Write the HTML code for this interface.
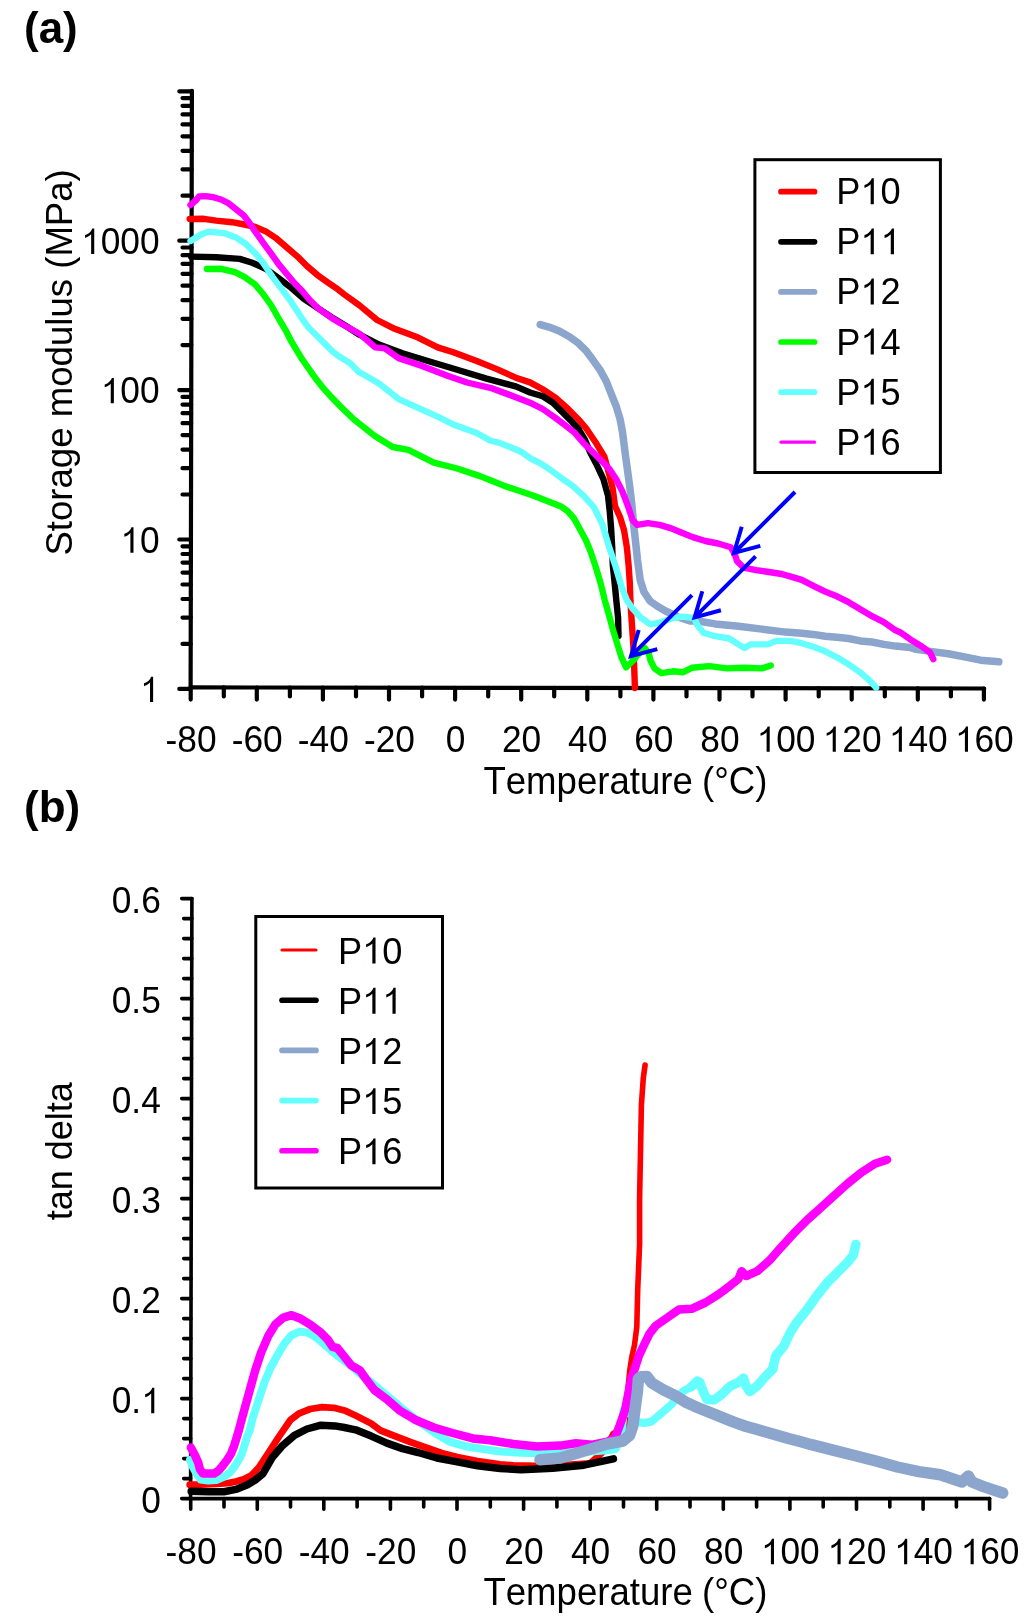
<!DOCTYPE html>
<html><head><meta charset="utf-8">
<style>
html,body{margin:0;padding:0;background:#fff;}
body{width:1024px;height:1623px;overflow:hidden;}
svg{display:block;}
text{font-family:"Liberation Sans",sans-serif;fill:#000;white-space:pre;-webkit-font-smoothing:antialiased;font-kerning:none;font-feature-settings:"kern" 0;}
svg{will-change:transform;}
</style></head><body>
<svg width="1024" height="1623" viewBox="0 0 1024 1623">
<text x="24" y="43" font-size="44" font-weight="bold">(a)</text>
<text x="24" y="822" font-size="44" font-weight="bold">(b)</text>
<g stroke="#000" stroke-width="4.2" stroke-linecap="round" fill="none">
<path d="M191.9 90.8 L190.6 688.0"/>
<path d="M190.6 687.4 L984.2 688.5"/>
<path d="M190.6 688.9 H179.3 M190.7 643.9 H182.5 M190.8 617.6 H182.5 M190.8 599.0 H182.5 M190.8 584.5 H182.5 M190.9 572.6 H182.5 M190.9 562.6 H182.5 M190.9 554.0 H182.5 M190.9 546.3 H182.5 M190.9 539.5 H179.3 M191.0 494.5 H182.5 M191.1 468.2 H182.5 M191.1 449.6 H182.5 M191.2 435.1 H182.5 M191.2 423.2 H182.5 M191.2 413.2 H182.5 M191.2 404.6 H182.5 M191.2 396.9 H182.5 M191.2 390.1 H179.3 M191.3 345.1 H182.5 M191.4 318.8 H182.5 M191.4 300.2 H182.5 M191.5 285.7 H182.5 M191.5 273.8 H182.5 M191.5 263.8 H182.5 M191.5 255.2 H182.5 M191.6 247.5 H182.5 M191.6 240.7 H179.3 M191.7 195.7 H182.5 M191.7 169.4 H182.5 M191.8 150.8 H182.5 M191.8 136.3 H182.5 M191.8 124.4 H182.5 M191.8 114.4 H182.5 M191.9 105.8 H182.5 M191.9 98.1 H182.5 M191.9 91.3 H179.3 M190.7 687.4 V699.6 M223.8 687.4 V696.4 M256.8 687.5 V699.6 M289.9 687.5 V696.4 M322.9 687.6 V699.6 M356.0 687.6 V696.4 M389.0 687.7 V699.6 M422.1 687.7 V696.4 M455.1 687.8 V699.6 M488.2 687.8 V696.4 M521.2 687.9 V699.6 M554.2 687.9 V696.4 M587.3 687.9 V699.6 M620.4 688.0 V696.4 M653.4 688.0 V699.6 M686.5 688.1 V696.4 M719.5 688.1 V699.6 M752.5 688.2 V696.4 M785.6 688.2 V699.6 M818.7 688.3 V696.4 M851.7 688.3 V699.6 M884.8 688.4 V696.4 M917.8 688.4 V699.6 M950.9 688.5 V696.4 M983.9 688.5 V699.6"/>
</g>
<g transform="translate(159.6 253.9) scale(1 1.045)"><text font-size="35.3" text-anchor="end">1000</text><rect x="-76.53" y="-25.34" width="16.89" height="26.03" fill="#fff"/><path transform="translate(-78.51 0) scale(0.01724 -0.01724)" d="M583 0H763V1409H646C627 1356 596 1302 552 1247C508 1193 458 1150 402 1118C346 1085 290 1062 232 1049V885C290 900 350 925 412 960C474 995 536 1040 583 1090Z"/></g>
<g transform="translate(159.6 403.3) scale(1 1.045)"><text font-size="35.3" text-anchor="end">100</text><rect x="-56.91" y="-25.34" width="16.89" height="26.03" fill="#fff"/><path transform="translate(-58.89 0) scale(0.01724 -0.01724)" d="M583 0H763V1409H646C627 1356 596 1302 552 1247C508 1193 458 1150 402 1118C346 1085 290 1062 232 1049V885C290 900 350 925 412 960C474 995 536 1040 583 1090Z"/></g>
<g transform="translate(159.6 552.7) scale(1 1.045)"><text font-size="35.3" text-anchor="end">10</text><rect x="-37.28" y="-25.34" width="16.89" height="26.03" fill="#fff"/><path transform="translate(-39.26 0) scale(0.01724 -0.01724)" d="M583 0H763V1409H646C627 1356 596 1302 552 1247C508 1193 458 1150 402 1118C346 1085 290 1062 232 1049V885C290 900 350 925 412 960C474 995 536 1040 583 1090Z"/></g>
<g transform="translate(159.6 702.1) scale(1 1.045)"><text font-size="35.3" text-anchor="end">1</text><rect x="-17.65" y="-25.34" width="16.89" height="26.03" fill="#fff"/><path transform="translate(-19.63 0) scale(0.01724 -0.01724)" d="M583 0H763V1409H646C627 1356 596 1302 552 1247C508 1193 458 1150 402 1118C346 1085 290 1062 232 1049V885C290 900 350 925 412 960C474 995 536 1040 583 1090Z"/></g>
<g transform="translate(191.1 751.8) scale(1 1.045)"><text font-size="35.3" text-anchor="middle">-80</text></g>
<g transform="translate(257.2 751.8) scale(1 1.045)"><text font-size="35.3" text-anchor="middle">-60</text></g>
<g transform="translate(323.3 751.8) scale(1 1.045)"><text font-size="35.3" text-anchor="middle">-40</text></g>
<g transform="translate(389.4 751.8) scale(1 1.045)"><text font-size="35.3" text-anchor="middle">-20</text></g>
<g transform="translate(455.5 751.8) scale(1 1.045)"><text font-size="35.3" text-anchor="middle">0</text></g>
<g transform="translate(521.6 751.8) scale(1 1.045)"><text font-size="35.3" text-anchor="middle">20</text></g>
<g transform="translate(587.7 751.8) scale(1 1.045)"><text font-size="35.3" text-anchor="middle">40</text></g>
<g transform="translate(653.8 751.8) scale(1 1.045)"><text font-size="35.3" text-anchor="middle">60</text></g>
<g transform="translate(719.9 751.8) scale(1 1.045)"><text font-size="35.3" text-anchor="middle">80</text></g>
<g transform="translate(786.0 751.8) scale(1 1.045)"><text font-size="35.3" text-anchor="middle">100</text><rect x="-27.47" y="-25.34" width="16.89" height="26.03" fill="#fff"/><path transform="translate(-29.45 0) scale(0.01724 -0.01724)" d="M583 0H763V1409H646C627 1356 596 1302 552 1247C508 1193 458 1150 402 1118C346 1085 290 1062 232 1049V885C290 900 350 925 412 960C474 995 536 1040 583 1090Z"/></g>
<g transform="translate(852.1 751.8) scale(1 1.045)"><text font-size="35.3" text-anchor="middle">120</text><rect x="-27.47" y="-25.34" width="16.89" height="26.03" fill="#fff"/><path transform="translate(-29.45 0) scale(0.01724 -0.01724)" d="M583 0H763V1409H646C627 1356 596 1302 552 1247C508 1193 458 1150 402 1118C346 1085 290 1062 232 1049V885C290 900 350 925 412 960C474 995 536 1040 583 1090Z"/></g>
<g transform="translate(918.2 751.8) scale(1 1.045)"><text font-size="35.3" text-anchor="middle">140</text><rect x="-27.47" y="-25.34" width="16.89" height="26.03" fill="#fff"/><path transform="translate(-29.45 0) scale(0.01724 -0.01724)" d="M583 0H763V1409H646C627 1356 596 1302 552 1247C508 1193 458 1150 402 1118C346 1085 290 1062 232 1049V885C290 900 350 925 412 960C474 995 536 1040 583 1090Z"/></g>
<g transform="translate(984.3 751.8) scale(1 1.045)"><text font-size="35.3" text-anchor="middle">160</text><rect x="-27.47" y="-25.34" width="16.89" height="26.03" fill="#fff"/><path transform="translate(-29.45 0) scale(0.01724 -0.01724)" d="M583 0H763V1409H646C627 1356 596 1302 552 1247C508 1193 458 1150 402 1118C346 1085 290 1062 232 1049V885C290 900 350 925 412 960C474 995 536 1040 583 1090Z"/></g>
<g transform="translate(483.4 794.0) scale(1 1.040)"><text font-size="36.6" text-anchor="start">Temperature</text></g>
<g transform="translate(702.0 794.0) scale(1 1.040)"><text font-size="36.6" text-anchor="start">(°C)</text></g>
<g transform="translate(71.8 362.4) rotate(-90) scale(1 1.013)"><text font-size="36.6" text-anchor="middle">Storage modulus (MPa)</text></g>
<g>
<path d="M189.7 219.0 L203.8 218.8 L216.2 220.6 L231.9 222.2 L244.4 224.5 L255.3 226.9 L266.2 231.6 L275.6 237.8 L286.6 247.2 L297.5 256.6 L306.9 266.0 L317.8 275.3 L328.8 283.1 L338.0 289.4 L344.4 294.5 L359.5 305.4 L377.1 320.0 L394.7 328.8 L418.1 337.6 L437.7 347.4 L453.3 352.3 L476.7 361.0 L496.2 368.9 L515.8 377.7 L530.0 382.4 L542.7 389.3 L555.4 397.6 L568.1 409.0 L578.2 419.2 L585.9 428.0 L595.2 441.7 L604.5 457.0 L609.2 474.5 L612.7 488.6 L615.1 506.2 L620.0 517.0 L624.0 530.0 L626.9 547.6 L628.6 565.2 L629.8 582.7 L630.4 600.3 L631.3 615.0 L632.3 630.0 L633.3 645.0 L633.9 660.0 L634.4 673.2 L634.9 688.0" fill="none" stroke="#ff0000" stroke-width="6.4" stroke-linecap="round" stroke-linejoin="round"/>
<path d="M191.2 256.6 L216.2 257.3 L239.7 258.9 L252.2 262.8 L266.2 269.0 L278.8 278.4 L291.2 287.8 L303.8 298.8 L317.8 308.1 L331.9 317.5 L344.4 325.0 L359.5 334.7 L379.0 344.5 L402.5 353.2 L427.9 361.0 L457.2 369.8 L486.5 378.6 L515.8 386.4 L530.0 392.5 L542.7 396.3 L552.9 402.7 L561.7 411.6 L570.6 420.4 L578.5 429.0 L585.0 440.0 L590.0 452.0 L596.3 464.0 L603.4 479.2 L608.0 495.6 L609.8 512.0 L611.2 529.6 L612.2 547.6 L612.8 565.2 L614.6 582.7 L616.3 600.3 L618.1 617.9 L618.5 636.0" fill="none" stroke="#000000" stroke-width="6.4" stroke-linecap="round" stroke-linejoin="round"/>
<path d="M540.2 324.6 L549.0 327.1 L559.2 331.0 L569.4 336.7 L578.2 343.0 L585.9 350.6 L593.5 360.8 L599.8 369.7 L606.2 381.1 L611.2 393.8 L616.3 406.5 L620.1 419.2 L622.5 432.0 L625.2 453.4 L627.6 471.0 L630.0 488.6 L632.0 506.2 L633.5 523.8 L635.5 541.3 L637.5 560.0 L640.2 580.0 L644.0 592.0 L650.0 601.0 L657.0 606.0 L665.5 611.0 L677.3 616.7 L690.0 621.0 L697.6 621.0 L715.2 623.9 L738.6 626.2 L762.0 629.1 L785.5 632.1 L801.7 633.2 L813.4 634.4 L825.2 636.2 L836.9 637.3 L848.6 638.5 L860.3 640.9 L872.0 642.0 L883.8 644.4 L895.5 646.1 L910.0 647.5 L916.1 649.4 L932.2 651.6 L948.3 653.7 L964.5 656.9 L980.6 660.2 L998.8 661.8" fill="none" stroke="#8ba5cc" stroke-width="7.5" stroke-linecap="round" stroke-linejoin="round"/>
<path d="M206.9 269.0 L220.9 268.8 L235.0 272.2 L244.4 276.9 L255.3 284.7 L263.1 294.0 L271.0 305.0 L279.5 320.0 L285.4 329.8 L290.3 339.5 L296.1 349.3 L302.0 359.0 L308.8 368.8 L315.7 378.6 L323.5 388.4 L332.3 398.1 L341.0 406.9 L354.0 419.5 L375.2 436.2 L392.7 447.0 L408.4 449.9 L433.8 462.6 L457.2 468.5 L480.0 476.1 L489.8 480.0 L504.4 485.9 L519.0 490.8 L533.7 495.7 L548.4 501.5 L561.0 506.4 L567.9 511.3 L573.8 518.1 L579.0 527.5 L585.8 540.0 L590.0 550.0 L595.2 565.2 L600.5 582.7 L604.8 600.3 L609.0 615.0 L613.0 630.0 L617.3 643.9 L621.2 656.6 L626.1 667.4 L631.0 662.5 L634.0 659.6 L636.9 655.7 L644.7 647.9 L648.6 652.7 L650.5 660.5 L654.5 668.4 L661.3 673.2 L673.0 671.3 L682.8 672.3 L691.7 667.8 L709.3 666.1 L726.9 668.4 L744.5 667.8 L762.0 668.4 L770.8 665.5" fill="none" stroke="#00ff00" stroke-width="6.4" stroke-linecap="round" stroke-linejoin="round"/>
<path d="M190.5 241.0 L200.6 234.7 L208.4 231.6 L224.0 233.1 L236.6 237.8 L245.9 244.0 L255.3 253.4 L263.1 262.8 L272.5 276.9 L281.9 289.4 L291.2 301.9 L303.0 320.0 L308.8 327.8 L316.6 335.6 L324.5 343.4 L332.3 351.2 L340.0 357.1 L349.8 363.0 L358.6 371.8 L379.0 383.5 L398.6 399.1 L418.1 407.9 L437.7 416.7 L453.3 424.5 L476.7 433.0 L490.0 440.5 L499.5 442.9 L509.3 446.8 L521.0 451.7 L530.8 458.6 L540.5 463.4 L552.3 471.2 L564.0 480.0 L571.7 485.1 L583.4 495.6 L594.0 507.3 L602.2 523.8 L609.3 547.6 L615.2 565.2 L621.0 585.1 L626.9 600.3 L632.0 607.8 L640.8 617.6 L650.5 624.4 L660.3 622.5 L673.0 618.1 L682.8 616.6 L694.0 618.0 L697.6 625.6 L703.4 632.7 L715.2 636.2 L729.2 638.5 L738.6 644.4 L744.5 647.9 L750.3 644.4 L767.9 644.4 L776.1 640.9 L790.0 640.9 L801.7 643.2 L813.4 646.7 L825.2 651.4 L836.9 657.3 L848.6 664.3 L860.3 672.5 L869.7 680.7 L876.1 687.7" fill="none" stroke="#66ffff" stroke-width="6.4" stroke-linecap="round" stroke-linejoin="round"/>
<path d="M190.5 205.0 L196.0 200.3 L199.0 196.4 L205.3 196.1 L213.0 197.2 L221.0 199.5 L228.8 203.4 L236.6 209.7 L243.6 215.2 L249.0 222.2 L255.3 231.6 L263.0 242.5 L271.0 253.4 L278.8 264.4 L286.6 273.8 L294.4 283.0 L302.2 291.0 L310.0 300.3 L317.8 308.0 L325.6 313.6 L333.4 319.0 L340.0 323.0 L359.5 333.7 L375.2 347.4 L384.9 348.4 L398.6 358.1 L422.0 365.9 L447.4 375.7 L467.0 382.5 L492.3 388.4 L515.8 397.2 L530.0 402.7 L542.7 409.0 L555.4 417.9 L565.5 425.5 L574.4 432.5 L583.4 442.9 L595.2 454.6 L609.2 468.7 L616.2 479.2 L622.1 490.9 L628.0 506.2 L632.7 520.2 L637.3 524.9 L647.9 523.2 L659.6 524.9 L671.3 528.4 L680.0 532.0 L692.7 537.1 L705.4 541.0 L718.1 543.5 L730.8 547.3 L734.6 553.6 L737.1 561.2 L743.5 567.6 L756.2 570.1 L768.9 572.0 L781.6 574.0 L790.0 576.4 L801.7 579.9 L813.4 585.8 L825.2 591.6 L836.9 596.3 L848.6 602.2 L860.3 609.2 L872.0 616.2 L883.8 622.1 L895.5 630.3 L900.0 632.2 L910.7 639.7 L921.5 646.2 L930.1 652.6 L933.3 659.1" fill="none" stroke="#ff00ff" stroke-width="6.4" stroke-linecap="round" stroke-linejoin="round"/>
</g>
<path d="M692.0 595.2 L631.0 656.2 M638.7 630.0 L631.0 656.2 L657.3 649.1" fill="none" stroke="#0000ff" stroke-width="4" stroke-linecap="butt" stroke-linejoin="miter"/>
<path d="M755.6 556.4 L694.6 617.4 M702.3 591.2 L694.6 617.4 L720.9 610.3" fill="none" stroke="#0000ff" stroke-width="4" stroke-linecap="butt" stroke-linejoin="miter"/>
<path d="M795.0 492.0 L734.0 553.0 M741.7 526.8 L734.0 553.0 L760.3 545.9" fill="none" stroke="#0000ff" stroke-width="4" stroke-linecap="butt" stroke-linejoin="miter"/>
<rect x="754.9" y="159.7" width="185.5" height="312.8" fill="#fff" stroke="#000" stroke-width="3"/>
<path d="M781 191.7 H814.5" stroke="#ff0000" stroke-width="5.7" stroke-linecap="round"/>
<g transform="translate(836.2 204.2) scale(1 1.040)"><text font-size="36.2" text-anchor="start">P10</text><rect x="26.17" y="-25.98" width="17.32" height="26.69" fill="#fff"/><path transform="translate(24.14 0) scale(0.01768 -0.01768)" d="M583 0H763V1409H646C627 1356 596 1302 552 1247C508 1193 458 1150 402 1118C346 1085 290 1062 232 1049V885C290 900 350 925 412 960C474 995 536 1040 583 1090Z"/></g>
<path d="M781 241.8 H814.5" stroke="#000000" stroke-width="5.7" stroke-linecap="round"/>
<g transform="translate(836.2 254.3) scale(1 1.040)"><text font-size="36.2" text-anchor="start">P11</text><rect x="26.17" y="-25.98" width="17.32" height="26.69" fill="#fff"/><path transform="translate(24.14 0) scale(0.01768 -0.01768)" d="M583 0H763V1409H646C627 1356 596 1302 552 1247C508 1193 458 1150 402 1118C346 1085 290 1062 232 1049V885C290 900 350 925 412 960C474 995 536 1040 583 1090Z"/><rect x="46.30" y="-25.98" width="17.32" height="26.69" fill="#fff"/><path transform="translate(44.26 0) scale(0.01768 -0.01768)" d="M583 0H763V1409H646C627 1356 596 1302 552 1247C508 1193 458 1150 402 1118C346 1085 290 1062 232 1049V885C290 900 350 925 412 960C474 995 536 1040 583 1090Z"/></g>
<path d="M781 291.9 H814.5" stroke="#8ba5cc" stroke-width="5.7" stroke-linecap="round"/>
<g transform="translate(836.2 304.4) scale(1 1.040)"><text font-size="36.2" text-anchor="start">P12</text><rect x="26.17" y="-25.98" width="17.32" height="26.69" fill="#fff"/><path transform="translate(24.14 0) scale(0.01768 -0.01768)" d="M583 0H763V1409H646C627 1356 596 1302 552 1247C508 1193 458 1150 402 1118C346 1085 290 1062 232 1049V885C290 900 350 925 412 960C474 995 536 1040 583 1090Z"/></g>
<path d="M781 342.0 H814.5" stroke="#00ff00" stroke-width="5.7" stroke-linecap="round"/>
<g transform="translate(836.2 354.5) scale(1 1.040)"><text font-size="36.2" text-anchor="start">P14</text><rect x="26.17" y="-25.98" width="17.32" height="26.69" fill="#fff"/><path transform="translate(24.14 0) scale(0.01768 -0.01768)" d="M583 0H763V1409H646C627 1356 596 1302 552 1247C508 1193 458 1150 402 1118C346 1085 290 1062 232 1049V885C290 900 350 925 412 960C474 995 536 1040 583 1090Z"/></g>
<path d="M781 392.1 H814.5" stroke="#66ffff" stroke-width="5.7" stroke-linecap="round"/>
<g transform="translate(836.2 404.6) scale(1 1.040)"><text font-size="36.2" text-anchor="start">P15</text><rect x="26.17" y="-25.98" width="17.32" height="26.69" fill="#fff"/><path transform="translate(24.14 0) scale(0.01768 -0.01768)" d="M583 0H763V1409H646C627 1356 596 1302 552 1247C508 1193 458 1150 402 1118C346 1085 290 1062 232 1049V885C290 900 350 925 412 960C474 995 536 1040 583 1090Z"/></g>
<path d="M781 442.2 H814.5" stroke="#ff00ff" stroke-width="3.2" stroke-linecap="round"/>
<g transform="translate(836.2 454.7) scale(1 1.040)"><text font-size="36.2" text-anchor="start">P16</text><rect x="26.17" y="-25.98" width="17.32" height="26.69" fill="#fff"/><path transform="translate(24.14 0) scale(0.01768 -0.01768)" d="M583 0H763V1409H646C627 1356 596 1302 552 1247C508 1193 458 1150 402 1118C346 1085 290 1062 232 1049V885C290 900 350 925 412 960C474 995 536 1040 583 1090Z"/></g>
<g stroke="#000" stroke-width="3.6" stroke-linecap="round" fill="none">
<path d="M191.9 898.6 L190.6 1498.6"/>
<path d="M190.6 1498.6 L989.6 1498.6"/>
<path d="M190.6 1498.6 H181.7 M190.6 1478.6 H183.7 M190.7 1458.6 H183.7 M190.7 1438.6 H183.7 M190.8 1418.6 H183.7 M190.8 1398.6 H181.7 M190.9 1378.6 H183.7 M190.9 1358.6 H183.7 M190.9 1338.6 H183.7 M191.0 1318.6 H183.7 M191.0 1298.6 H181.7 M191.1 1278.6 H183.7 M191.1 1258.6 H183.7 M191.2 1238.6 H183.7 M191.2 1218.6 H183.7 M191.2 1198.6 H181.7 M191.3 1178.6 H183.7 M191.3 1158.6 H183.7 M191.4 1138.6 H183.7 M191.4 1118.6 H183.7 M191.5 1098.6 H181.7 M191.5 1078.6 H183.7 M191.6 1058.6 H183.7 M191.6 1038.6 H183.7 M191.6 1018.6 H183.7 M191.7 998.6 H181.7 M191.7 978.6 H183.7 M191.8 958.6 H183.7 M191.8 938.6 H183.7 M191.9 918.6 H183.7 M191.9 898.6 H181.7 M190.7 1498.6 V1509.2 M224.0 1498.6 V1506.9 M257.3 1498.6 V1509.2 M290.5 1498.6 V1506.9 M323.8 1498.6 V1509.2 M357.1 1498.6 V1506.9 M390.4 1498.6 V1509.2 M423.7 1498.6 V1506.9 M457.0 1498.6 V1509.2 M490.3 1498.6 V1506.9 M523.6 1498.6 V1509.2 M556.9 1498.6 V1506.9 M590.2 1498.6 V1509.2 M623.5 1498.6 V1506.9 M656.7 1498.6 V1509.2 M690.0 1498.6 V1506.9 M723.3 1498.6 V1509.2 M756.6 1498.6 V1506.9 M789.9 1498.6 V1509.2 M823.2 1498.6 V1506.9 M856.5 1498.6 V1509.2 M889.8 1498.6 V1506.9 M923.1 1498.6 V1509.2 M956.4 1498.6 V1506.9 M989.6 1498.6 V1509.2"/>
</g>
<g transform="translate(160.8 1513.2) scale(1 1.045)"><text font-size="35.3" text-anchor="end">0</text></g>
<g transform="translate(160.8 1413.2) scale(1 1.045)"><text font-size="35.3" text-anchor="end">0.1</text><rect x="-17.66" y="-25.34" width="16.89" height="26.03" fill="#fff"/><path transform="translate(-19.65 0) scale(0.01724 -0.01724)" d="M583 0H763V1409H646C627 1356 596 1302 552 1247C508 1193 458 1150 402 1118C346 1085 290 1062 232 1049V885C290 900 350 925 412 960C474 995 536 1040 583 1090Z"/></g>
<g transform="translate(160.8 1313.2) scale(1 1.045)"><text font-size="35.3" text-anchor="end">0.2</text></g>
<g transform="translate(160.8 1213.2) scale(1 1.045)"><text font-size="35.3" text-anchor="end">0.3</text></g>
<g transform="translate(160.8 1113.2) scale(1 1.045)"><text font-size="35.3" text-anchor="end">0.4</text></g>
<g transform="translate(160.8 1013.2) scale(1 1.045)"><text font-size="35.3" text-anchor="end">0.5</text></g>
<g transform="translate(160.8 913.2) scale(1 1.045)"><text font-size="35.3" text-anchor="end">0.6</text></g>
<g transform="translate(191.1 1564.2) scale(1 1.045)"><text font-size="35.3" text-anchor="middle">-80</text></g>
<g transform="translate(257.7 1564.2) scale(1 1.045)"><text font-size="35.3" text-anchor="middle">-60</text></g>
<g transform="translate(324.2 1564.2) scale(1 1.045)"><text font-size="35.3" text-anchor="middle">-40</text></g>
<g transform="translate(390.8 1564.2) scale(1 1.045)"><text font-size="35.3" text-anchor="middle">-20</text></g>
<g transform="translate(457.4 1564.2) scale(1 1.045)"><text font-size="35.3" text-anchor="middle">0</text></g>
<g transform="translate(524.0 1564.2) scale(1 1.045)"><text font-size="35.3" text-anchor="middle">20</text></g>
<g transform="translate(590.6 1564.2) scale(1 1.045)"><text font-size="35.3" text-anchor="middle">40</text></g>
<g transform="translate(657.1 1564.2) scale(1 1.045)"><text font-size="35.3" text-anchor="middle">60</text></g>
<g transform="translate(723.7 1564.2) scale(1 1.045)"><text font-size="35.3" text-anchor="middle">80</text></g>
<g transform="translate(790.3 1564.2) scale(1 1.045)"><text font-size="35.3" text-anchor="middle">100</text><rect x="-27.47" y="-25.34" width="16.89" height="26.03" fill="#fff"/><path transform="translate(-29.45 0) scale(0.01724 -0.01724)" d="M583 0H763V1409H646C627 1356 596 1302 552 1247C508 1193 458 1150 402 1118C346 1085 290 1062 232 1049V885C290 900 350 925 412 960C474 995 536 1040 583 1090Z"/></g>
<g transform="translate(856.9 1564.2) scale(1 1.045)"><text font-size="35.3" text-anchor="middle">120</text><rect x="-27.47" y="-25.34" width="16.89" height="26.03" fill="#fff"/><path transform="translate(-29.45 0) scale(0.01724 -0.01724)" d="M583 0H763V1409H646C627 1356 596 1302 552 1247C508 1193 458 1150 402 1118C346 1085 290 1062 232 1049V885C290 900 350 925 412 960C474 995 536 1040 583 1090Z"/></g>
<g transform="translate(923.5 1564.2) scale(1 1.045)"><text font-size="35.3" text-anchor="middle">140</text><rect x="-27.47" y="-25.34" width="16.89" height="26.03" fill="#fff"/><path transform="translate(-29.45 0) scale(0.01724 -0.01724)" d="M583 0H763V1409H646C627 1356 596 1302 552 1247C508 1193 458 1150 402 1118C346 1085 290 1062 232 1049V885C290 900 350 925 412 960C474 995 536 1040 583 1090Z"/></g>
<g transform="translate(990.0 1564.2) scale(1 1.045)"><text font-size="35.3" text-anchor="middle">160</text><rect x="-27.47" y="-25.34" width="16.89" height="26.03" fill="#fff"/><path transform="translate(-29.45 0) scale(0.01724 -0.01724)" d="M583 0H763V1409H646C627 1356 596 1302 552 1247C508 1193 458 1150 402 1118C346 1085 290 1062 232 1049V885C290 900 350 925 412 960C474 995 536 1040 583 1090Z"/></g>
<g transform="translate(483.4 1605.0) scale(1 1.040)"><text font-size="36.6" text-anchor="start">Temperature</text></g>
<g transform="translate(702.0 1605.0) scale(1 1.040)"><text font-size="36.6" text-anchor="start">(°C)</text></g>
<g transform="translate(71.9 1151.3) rotate(-90) scale(1 1.000)"><text font-size="36.0" text-anchor="middle">tan delta</text></g>
<path d="M189.7 1484.7 L200.6 1484.7 L216.2 1483.9 L228.0 1483.1 L235.8 1481.6 L243.6 1479.2 L251.4 1475.3 L259.2 1467.0 L267.8 1454.0 L278.8 1436.9 L290.4 1420.0 L298.6 1413.7 L310.3 1409.0 L322.0 1407.2 L333.8 1407.8 L345.5 1410.8 L355.6 1415.5 L371.2 1423.5 L380.6 1430.5 L394.7 1436.0 L410.3 1442.0 L425.9 1447.5 L441.6 1453.0 L457.2 1457.0 L477.5 1461.0 L500.0 1464.3 L513.4 1465.3 L536.9 1465.8 L560.0 1465.5 L590.0 1463.5 L605.0 1450.0 L613.4 1434.0 L625.8 1426.0" fill="none" stroke="#ff0000" stroke-width="6.8" stroke-linecap="round" stroke-linejoin="round"/>
<path d="M625.8 1426.0 L627.3 1395.0 L629.7 1371.0 L632.0 1356.0 L634.5 1345.0 L636.8 1327.0 L637.7 1290.0 L639.6 1244.0 L639.6 1198.0 L640.5 1152.0 L641.4 1105.0 L643.3 1078.0 L645.1 1065.0" fill="none" stroke="#ff0000" stroke-width="5.6" stroke-linecap="round" stroke-linejoin="round"/>
<path d="M191.2 1491.3 L208.4 1491.7 L224.0 1491.7 L235.8 1489.4 L247.5 1484.7 L255.3 1480.0 L263.1 1473.5 L272.5 1457.2 L281.9 1446.2 L294.4 1435.3 L306.9 1429.0 L320.9 1425.2 L335.0 1425.9 L344.4 1427.5 L355.6 1429.8 L371.2 1436.1 L386.9 1443.1 L402.5 1448.6 L418.1 1452.5 L436.9 1458.0 L457.2 1461.9 L477.5 1465.8 L500.0 1468.5 L521.2 1469.8 L552.5 1468.3 L583.8 1465.2 L613.4 1458.9" fill="none" stroke="#000000" stroke-width="7.5" stroke-linecap="round" stroke-linejoin="round"/>
<path d="M190.1 1459.7 L192.8 1466.7 L196.7 1473.8 L200.6 1479.5 L208.4 1480.6 L216.2 1480.0 L224.0 1476.9 L230.3 1472.2 L235.0 1466.0 L238.9 1459.7 L242.0 1453.4 L244.4 1445.6 L246.7 1437.8 L249.8 1430.0 L252.9 1417.2 L258.8 1399.6 L264.6 1382.0 L270.5 1368.0 L277.5 1355.1 L284.5 1343.4 L291.6 1335.2 L299.8 1331.6 L308.0 1332.8 L316.2 1337.5 L324.4 1344.5 L333.8 1352.7 L343.1 1359.8 L352.5 1366.8 L360.0 1373.8 L371.2 1382.2 L402.5 1408.8 L418.1 1421.2 L433.8 1432.2 L449.4 1441.6 L465.0 1446.2 L480.6 1448.6 L500.0 1451.5 L521.2 1452.7 L552.5 1453.4 L583.8 1451.9 L607.2 1450.3 L615.6 1449.0 L621.1 1437.7 L622.7 1422.0 L623.4 1410.3 L630.0 1414.0 L637.5 1422.0 L644.0 1423.0 L651.7 1421.5 L663.4 1411.5 L671.7 1404.3 L677.5 1397.0 L683.4 1391.0 L691.2 1386.9 L697.4 1381.0 L699.5 1382.0 L703.0 1391.0 L706.7 1399.4 L714.5 1399.8 L722.3 1393.9 L730.2 1386.1 L738.0 1382.6 L743.4 1378.3 L746.0 1386.0 L749.7 1391.6 L757.5 1385.7 L765.3 1376.7 L773.1 1368.9 L772.8 1368.1 L775.9 1355.6 L783.8 1346.2 L790.0 1333.0 L796.3 1323.0 L807.1 1309.5 L816.6 1295.9 L827.5 1282.4 L837.0 1272.9 L847.8 1262.0 L853.2 1255.3 L855.9 1244.4" fill="none" stroke="#66ffff" stroke-width="8.0" stroke-linecap="round" stroke-linejoin="round"/>
<path d="M691.2 1386.9 L697.4 1381.0 L699.5 1382.0 L703.0 1391.0 L706.7 1399.4 L714.5 1399.8 L722.3 1393.9 L730.2 1386.1 L738.0 1382.6 L743.4 1378.3 L746.0 1386.0 L749.7 1391.6 L757.5 1385.7 L765.3 1376.7 L773.1 1368.9 L772.8 1368.1 L775.9 1355.6 L783.8 1346.2 L790.0 1333.0 L796.3 1323.0 L807.1 1309.5 L816.6 1295.9 L827.5 1282.4 L837.0 1272.9 L847.8 1262.0 L853.2 1255.3 L855.9 1244.4" fill="none" stroke="#66ffff" stroke-width="9.5" stroke-linecap="round" stroke-linejoin="round"/>
<path d="M190.9 1447.6 L195.2 1455.8 L198.3 1462.8 L199.8 1469.0 L203.0 1473.5 L208.4 1473.4 L213.9 1473.6 L218.6 1470.6 L222.5 1466.0 L227.2 1459.7 L231.1 1453.4 L234.2 1445.6 L236.6 1437.8 L238.9 1430.0 L242.3 1417.2 L249.4 1391.4 L255.2 1370.3 L261.1 1352.7 L268.1 1336.3 L275.2 1324.6 L283.4 1317.6 L291.6 1315.2 L300.9 1318.8 L310.3 1324.6 L319.7 1331.6 L327.9 1339.8 L332.6 1346.9 L337.3 1348.0 L343.1 1355.1 L351.3 1365.3 L360.0 1370.5 L366.0 1379.0 L374.4 1390.0 L386.9 1399.4 L399.4 1410.3 L415.0 1419.7 L433.8 1427.5 L452.5 1433.0 L472.8 1438.4 L490.0 1440.2 L513.4 1444.0 L536.9 1446.4 L560.3 1445.6 L575.9 1443.3 L591.6 1444.8 L607.2 1441.7 L615.0 1437.8 L619.5 1426.0 L625.0 1410.3 L628.1 1394.7 L631.2 1379.0 L635.2 1367.3 L639.0 1355.6 L643.5 1346.0 L649.4 1333.8 L655.6 1325.9 L666.6 1318.1 L679.0 1309.5 L691.6 1308.8 L705.6 1302.5 L718.1 1294.7 L730.6 1285.3 L738.4 1279.0 L741.6 1271.2 L746.2 1276.0 L757.2 1271.2 L769.7 1260.3 L780.6 1247.8 L793.6 1233.6 L807.1 1220.0 L820.7 1207.8 L834.2 1195.6 L847.8 1183.4 L861.4 1172.5 L874.9 1163.7 L887.1 1159.7" fill="none" stroke="#ff00ff" stroke-width="8.5" stroke-linecap="round" stroke-linejoin="round"/>
<path d="M540.0 1459.7 L560.3 1458.1 L575.9 1453.4 L591.6 1448.8 L607.2 1444.0 L622.8 1441.0 L629.7 1435.3 L632.8 1426.0 L634.4 1414.2 L635.9 1402.5 L637.5 1390.8 L638.3 1379.0 L640.6 1376.7 L646.9 1376.5 L651.7 1382.9 L663.4 1389.9 L675.2 1395.7 L686.9 1402.8 L698.6 1408.0 L710.3 1412.7 L722.0 1417.4 L733.8 1422.1 L745.5 1426.2 L757.2 1429.5 L772.8 1434.0 L788.4 1438.5 L800.0 1441.5 L811.5 1444.7 L833.0 1450.1 L854.5 1455.5 L875.9 1461.0 L897.4 1467.0 L918.9 1471.6 L940.4 1474.8 L961.9 1482.0 L968.3 1476.0 L972.0 1482.0 L983.4 1486.6 L1002.7 1493.0" fill="none" stroke="#8ba5cc" stroke-width="11.5" stroke-linecap="round" stroke-linejoin="round"/>
<rect x="255.8" y="916.5" width="186.7" height="271.5" fill="#fff" stroke="#000" stroke-width="3"/>
<path d="M282 950.0 H316" stroke="#ff0000" stroke-width="3.1" stroke-linecap="round"/>
<g transform="translate(337.9 963.5) scale(1 1.040)"><text font-size="36.2" text-anchor="start">P10</text><rect x="26.17" y="-25.98" width="17.32" height="26.69" fill="#fff"/><path transform="translate(24.14 0) scale(0.01768 -0.01768)" d="M583 0H763V1409H646C627 1356 596 1302 552 1247C508 1193 458 1150 402 1118C346 1085 290 1062 232 1049V885C290 900 350 925 412 960C474 995 536 1040 583 1090Z"/></g>
<path d="M282 1000.2 H316" stroke="#000000" stroke-width="5.6" stroke-linecap="round"/>
<g transform="translate(337.9 1013.7) scale(1 1.040)"><text font-size="36.2" text-anchor="start">P11</text><rect x="26.17" y="-25.98" width="17.32" height="26.69" fill="#fff"/><path transform="translate(24.14 0) scale(0.01768 -0.01768)" d="M583 0H763V1409H646C627 1356 596 1302 552 1247C508 1193 458 1150 402 1118C346 1085 290 1062 232 1049V885C290 900 350 925 412 960C474 995 536 1040 583 1090Z"/><rect x="46.30" y="-25.98" width="17.32" height="26.69" fill="#fff"/><path transform="translate(44.26 0) scale(0.01768 -0.01768)" d="M583 0H763V1409H646C627 1356 596 1302 552 1247C508 1193 458 1150 402 1118C346 1085 290 1062 232 1049V885C290 900 350 925 412 960C474 995 536 1040 583 1090Z"/></g>
<path d="M282 1050.4 H316" stroke="#8ba5cc" stroke-width="5.6" stroke-linecap="round"/>
<g transform="translate(337.9 1063.9) scale(1 1.040)"><text font-size="36.2" text-anchor="start">P12</text><rect x="26.17" y="-25.98" width="17.32" height="26.69" fill="#fff"/><path transform="translate(24.14 0) scale(0.01768 -0.01768)" d="M583 0H763V1409H646C627 1356 596 1302 552 1247C508 1193 458 1150 402 1118C346 1085 290 1062 232 1049V885C290 900 350 925 412 960C474 995 536 1040 583 1090Z"/></g>
<path d="M282 1100.6 H316" stroke="#66ffff" stroke-width="5.6" stroke-linecap="round"/>
<g transform="translate(337.9 1114.1) scale(1 1.040)"><text font-size="36.2" text-anchor="start">P15</text><rect x="26.17" y="-25.98" width="17.32" height="26.69" fill="#fff"/><path transform="translate(24.14 0) scale(0.01768 -0.01768)" d="M583 0H763V1409H646C627 1356 596 1302 552 1247C508 1193 458 1150 402 1118C346 1085 290 1062 232 1049V885C290 900 350 925 412 960C474 995 536 1040 583 1090Z"/></g>
<path d="M282 1150.8 H316" stroke="#ff00ff" stroke-width="5.6" stroke-linecap="round"/>
<g transform="translate(337.9 1164.3) scale(1 1.040)"><text font-size="36.2" text-anchor="start">P16</text><rect x="26.17" y="-25.98" width="17.32" height="26.69" fill="#fff"/><path transform="translate(24.14 0) scale(0.01768 -0.01768)" d="M583 0H763V1409H646C627 1356 596 1302 552 1247C508 1193 458 1150 402 1118C346 1085 290 1062 232 1049V885C290 900 350 925 412 960C474 995 536 1040 583 1090Z"/></g>
</svg>
</body></html>
